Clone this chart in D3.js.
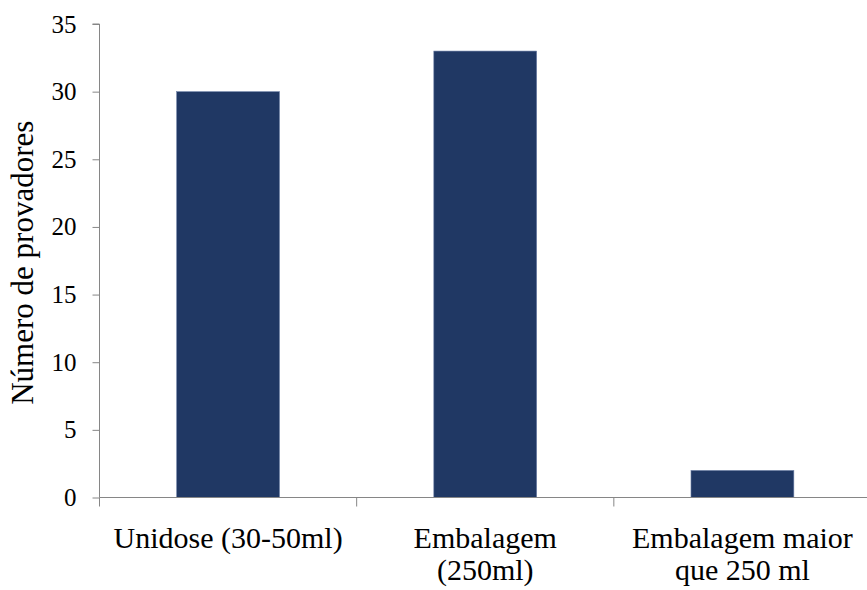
<!DOCTYPE html>
<html>
<head>
<meta charset="utf-8">
<script src="https://cdn.jsdelivr.net/npm/d3@7"></script>
</head>
<body style="margin:0">
<svg id="chart" width="867" height="590"></svg>
<script>
// Preferred package size, number of panelists
const categories = [
  ["Unidose (30-50ml)"],
  ["Embalagem", "(250ml)"],
  ["Embalagem maior", "que 250 ml"]
];
const values = [30, 33, 2];
const yTicks = [0, 5, 10, 15, 20, 25, 30, 35];
const yTitle = "Número de provadores";

const FONT = "Liberation Serif, Tinos, Times New Roman, serif";
const W = 867, H = 590;
const margin = { left: 99.5, right: -4, top: 24, bottom: 92.5 };
const svg = d3.select("#chart");

const keys = categories.map(c => c.join(" "));
const x = d3.scaleBand()
  .domain(keys)
  .range([margin.left, W - margin.right])
  .paddingInner(0.6)
  .paddingOuter(0.3);

const y = d3.scaleLinear()
  .domain([0, 35])
  .range([H - margin.bottom, margin.top]);

const axisColor = "#868686";

// bars
svg.append("g")
  .selectAll("rect")
  .data(values)
  .join("rect")
  .attr("x", (d, i) => x(keys[i]))
  .attr("width", x.bandwidth())
  .attr("y", d => y(d))
  .attr("height", d => y(0) - y(d))
  .attr("fill", "#203864")
  .attr("stroke", "#6e81a8")
  .attr("stroke-width", 0.6);

// y axis (ticks and domain only; labels drawn below)
const yAxis = svg.append("g")
  .attr("transform", `translate(${margin.left},0)`)
  .call(d3.axisLeft(y).tickValues(yTicks).tickSize(7).tickFormat(""));
yAxis.select(".domain").attr("stroke", axisColor).attr("d", `M-7,${y(35)}H0V${y(0)}`);
yAxis.selectAll(".tick line").attr("stroke", axisColor);
yAxis.selectAll(".tick text").remove();

// tick labels, right-aligned by measuring their width
svg.selectAll("text.ytick")
  .data(yTicks)
  .join("text")
  .attr("class", "ytick")
  .attr("y", d => y(d))
  .attr("dy", "0.34em")
  .attr("font-size", 25)
  .attr("font-family", FONT)
  .text(d => d3.format("d")(d))
  .attr("x", function () { return margin.left - 23 - this.getComputedTextLength(); });

// x axis: tick marks sit between the categories
const xAxis = svg.append("g").attr("transform", `translate(0,${y(0)})`);
xAxis.append("line")
  .attr("x1", margin.left).attr("x2", W)
  .attr("stroke", axisColor);
const step = x.step();
const bounds = d3.range(0, keys.length).map(i => x(keys[i]) - step * 0.3);
xAxis.selectAll("line.tick")
  .data(bounds)
  .join("line")
  .attr("class", "tick")
  .attr("x1", d => d).attr("x2", d => d)
  .attr("y1", 0).attr("y2", 9)
  .attr("stroke", axisColor);

// category labels, one text per line, centred under each bar
const lines = categories.flatMap((c, i) => c.map((t, j) => ({ t, i, j })));
xAxis.selectAll("text.cat")
  .data(lines)
  .join("text")
  .attr("class", "cat")
  .attr("font-size", 30)
  .attr("font-family", FONT)
  .attr("y", d => 50 + d.j * 32)
  .text(d => d.t)
  .attr("x", function (d) {
    return x(keys[d.i]) + x.bandwidth() / 2 - this.getComputedTextLength() / 2;
  });

// y title
const title = svg.append("text")
  .attr("font-size", 31)
  .attr("font-family", FONT)
  .text(yTitle);
const tl = title.node().getComputedTextLength();
title.attr("transform", `translate(33,${(y(0) + y(35)) / 2 + 2 + tl / 2}) rotate(-90)`);
</script>
</body>
</html>
